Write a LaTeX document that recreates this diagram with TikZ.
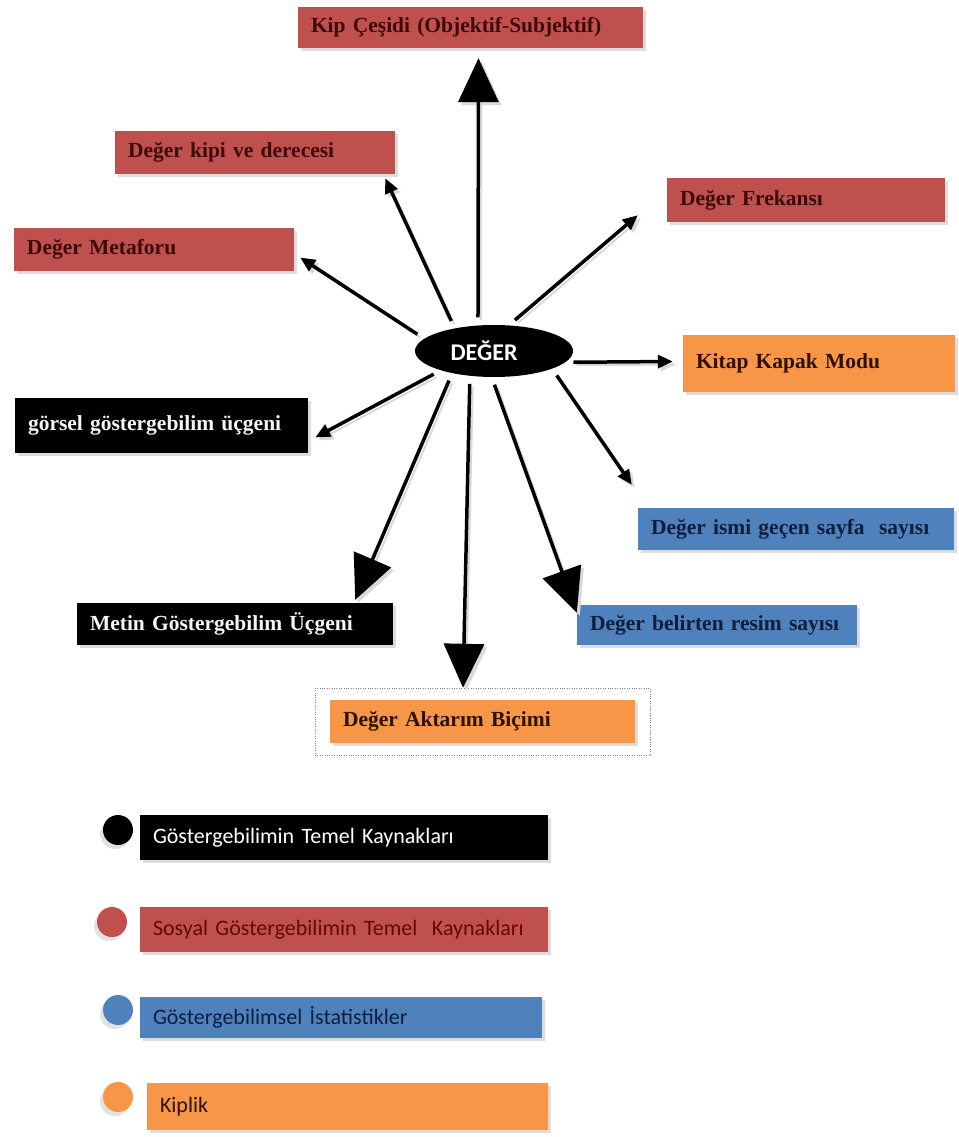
\documentclass[tikz,border=0pt]{standalone}
\usepackage{fontspec}
\setmainfont{Liberation Serif}
\newfontfamily\calibri{Carlito}
\usetikzlibrary{arrows.meta,shadows,shapes.geometric}

\definecolor{kirmizi}{HTML}{C0504D}
\definecolor{mavi}{HTML}{4F81BD}
\definecolor{turuncu}{HTML}{F79646}
\definecolor{kirmiziyazi}{HTML}{3C0A0A}
\definecolor{maviyazi}{HTML}{0F1E3C}
\definecolor{turuncuyazi}{HTML}{2B1100}

\tikzset{
  kutu/.style={rectangle, inner xsep=13pt, inner ysep=0pt, align=left,
    font=\fontsize{21.5}{24}\selectfont\bfseries,
    drop shadow={shadow xshift=3pt, shadow yshift=-3pt, fill=gray!55}},
  kirmizikutu/.style={kutu, fill=kirmizi, text=kirmiziyazi},
  mavikutu/.style={kutu, fill=mavi, text=maviyazi},
  turuncukutu/.style={kutu, fill=turuncu, text=turuncuyazi},
  siyahkutu/.style={kutu, fill=black, text=gray!8},
  lejant/.style={kutu, font=\calibri\fontsize{22}{24}\selectfont},
  isaret/.style={circle, minimum size=30pt, inner sep=0pt,
    drop shadow={shadow xshift=-3pt, shadow yshift=-4pt, fill=gray!45}},
  ok/.style={line width=3.5pt, shorten <=8pt, -{Triangle[width=13pt,length=15pt]},
    preaction={draw=gray!30, line width=2pt, transform canvas={xshift=3pt,yshift=-3pt}}},
  buyukok/.style={ok, -{Triangle[width=40pt,length=44pt]}}
}

\begin{document}
\begin{tikzpicture}[x=1pt,y=-1pt]
  \useasboundingbox (0,0) rectangle (958,1137);

  \node (deger) [ellipse, fill=black, text=white, minimum width=158pt, minimum height=52pt,
    inner sep=0pt, font=\calibri\bfseries\fontsize{24}{26}\selectfont] at (494,351) {\hspace*{-20pt}DEĞER};

  \node (kip) [kirmizikutu, text width=319pt, minimum height=41pt] at (470.5,27.5) {Kip Çeşidi (Objektif-Subjektif)};
  \node (kipi) [kirmizikutu, text width=254pt, minimum height=43pt] at (255,152.5) {Değer kipi ve derecesi};
  \node (metafor) [kirmizikutu, text width=254pt, minimum height=43pt] at (154,249.5) {Değer Metaforu};
  \node (frekans) [kirmizikutu, text width=252pt, minimum height=44pt] at (806,200) {Değer Frekansı};
  \node (kapak) [turuncukutu, text width=246pt, minimum height=57pt] at (819,363.5) {Kitap Kapak Modu};
  \node (gorsel) [siyahkutu, text width=267pt, minimum height=55pt] at (161.5,425.5) {görsel göstergebilim üçgeni};
  \node (ismi) [mavikutu, text width=290pt, minimum height=42pt] at (796,529) {Değer ismi geçen sayfa~ sayısı};
  \node (resim) [mavikutu, text width=254pt, minimum height=40pt] at (717,625) {Değer belirten resim sayısı};
  \node (metin) [siyahkutu, text width=290pt, minimum height=42pt] at (235,624) {Metin Göstergebilim Üçgeni};
  \node (cerceve) [draw=gray, dotted, minimum width=335pt, minimum height=67pt] at (482.5,721.5) {};
  \node (aktarim) [turuncukutu, text width=279pt, minimum height=43pt] at (482.5,721.5) {Değer Aktarım Biçimi};

  \draw[buyukok] (deger.122) -- ([xshift=8pt,yshift=-10pt]kip.south);
  \draw[ok] (deger.150) -- ([xshift=-10pt,yshift=-4pt]kipi.south east);
  \draw[ok] (deger.170) -- ([xshift=6pt,yshift=-8pt]metafor.east);
  \draw[ok] (deger.60) -- ([xshift=-29pt,yshift=7pt]frekans.south west);
  \draw[ok] (deger.-9) -- ([xshift=-10pt,yshift=2pt]kapak.west);
  \draw[ok] (deger.200) -- ([xshift=7pt,yshift=-12pt]gorsel.east);
  \draw[ok] (deger.-17) -- ([xshift=-6pt,yshift=23pt]ismi.north west);
  \draw[buyukok] (deger.265) -- ([yshift=-8pt]resim.north west);
  \draw[buyukok] (deger.226) -- ([xshift=-19.5pt]cerceve.north);
  \draw[buyukok] (deger.208) -- ([xshift=-38pt,yshift=3pt]metin.north east);

  \node (isaret1) [isaret, fill=black] at (118,830) {};
  \node (isaret2) [isaret, fill=kirmizi] at (112,922) {};
  \node (isaret3) [isaret, fill=mavi] at (118,1010) {};
  \node (isaret4) [isaret, fill=turuncu] at (118,1097) {};
  \node (lejant1) [lejant, fill=black, text=white, text width=382pt, minimum height=45pt] at (344,837.5) {Göstergebilimin Temel Kaynakları};
  \node (lejant2) [lejant, fill=kirmizi, text=kirmiziyazi!80!red, text width=382pt, minimum height=45pt] at (344,929.5) {Sosyal Göstergebilimin Temel~ Kaynakları};
  \node (lejant3) [lejant, fill=mavi, text=maviyazi, text width=376pt, minimum height=41pt] at (341,1017.5) {Göstergebilimsel İstatistikler};
  \node (lejant4) [lejant, fill=turuncu, text=turuncuyazi, text width=375pt, minimum height=47pt] at (347.5,1106.5) {Kiplik};
\end{tikzpicture}
\end{document}
